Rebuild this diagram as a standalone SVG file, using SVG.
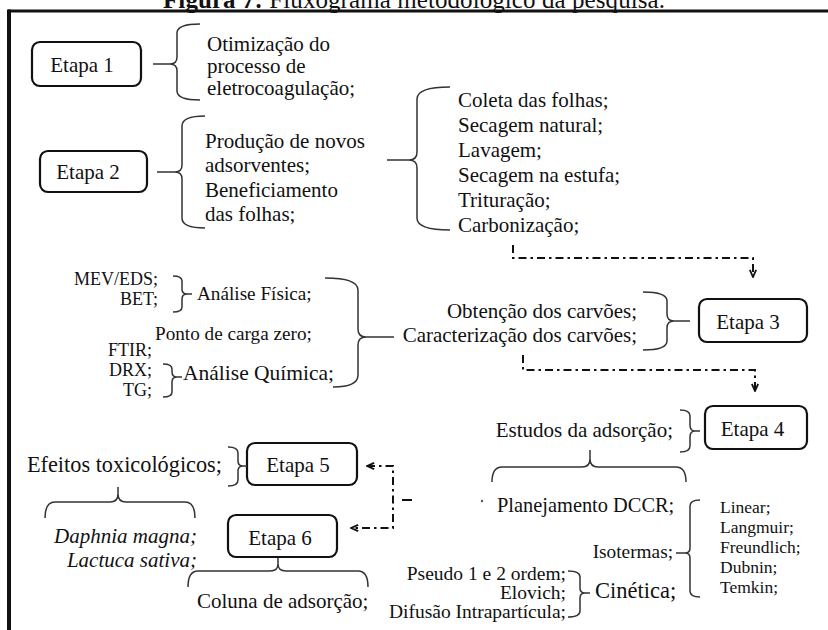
<svg xmlns="http://www.w3.org/2000/svg" width="828" height="630" viewBox="0 0 828 630">
<style>
text{font-family:"Liberation Serif","Times New Roman",serif;fill:#111;font-size:21px}
.sm{font-size:18px}
.xs{font-size:17.5px}
.it{font-style:italic}
.e{text-anchor:end}
.m{text-anchor:middle}
.box{fill:#fff;stroke:#111;stroke-width:2.2}
.br{fill:none;stroke:#333;stroke-width:1.5}
.cn{fill:none;stroke:#111;stroke-width:2;stroke-dasharray:8 4 2.5 4}
</style>
<defs>
<marker id="chev" viewBox="0 0 10 10" refX="9" refY="5" markerWidth="9" markerHeight="9" markerUnits="userSpaceOnUse" orient="auto-start-reverse">
<path d="M1,1.5 L9,5 L1,8.5" fill="none" stroke="#111" stroke-width="2"/>
</marker>
</defs>
<rect width="828" height="630" fill="#fff"/>
<g id="frame">
<line x1="8" y1="11" x2="828" y2="11" stroke="#111" stroke-width="3"/>
<line x1="9" y1="9.5" x2="9" y2="630" stroke="#111" stroke-width="4"/>
<text x="163" y="8" style="font-size:25px" textLength="502"><tspan font-weight="bold">Figura 7:</tspan> Fluxograma metodológico da pesquisa.</text>
</g>
<g id="etapa1">
<rect class="box" x="32" y="42" width="109" height="44" rx="8"/>
<text class="m" x="82" y="72">Etapa 1</text>
</g>
<g id="otimizacao">
<path class="br" d="M200,24 Q177,24 177,33 L177,57 Q177,64 170,64 L153,64 M170,64 Q177,64 177,71 L177,91 Q177,100 200,100"/>
<text x="207" y="51">Otimização do</text>
<text x="207" y="73">processo de</text>
<text x="207" y="95">eletrocoagulação;</text>
</g>
<g id="etapa2">
<rect class="box" x="40" y="151" width="107" height="41" rx="8"/>
<text class="m" x="88" y="179">Etapa 2</text>
</g>
<g id="producao">
<path class="br" d="M205,116 Q182,116 182,126 L182,165 Q182,172 175,172 L157,172 M175,172 Q182,172 182,179 L182,218 Q182,228 205,228"/>
<text x="205" y="148">Produção de novos</text>
<text x="205" y="172">adsorventes;</text>
<text x="205" y="197">Beneficiamento</text>
<text x="205" y="221">das folhas;</text>
</g>
<g id="beneficiamento">
<path class="br" d="M450,87 Q417,87 417,99 L417,152 Q417,160 409,160 L387,160 M409,160 Q417,160 417,168 L417,218 Q417,230 450,230"/>
<text x="458" y="107">Coleta das folhas;</text>
<text x="458" y="132">Secagem natural;</text>
<text x="458" y="157">Lavagem;</text>
<text x="458" y="182">Secagem na estufa;</text>
<text x="458" y="207">Trituração;</text>
<text x="458" y="232">Carbonização;</text>
</g>
<g id="etapa3">
<rect class="box" x="699" y="299" width="108" height="43" rx="8"/>
<text class="m" x="748" y="329">Etapa 3</text>
</g>
<g id="carvoes">
<path class="br" d="M643,292 Q667,292 667,301 L667,314 Q667,321 674,321 L690,321 M674,321 Q667,321 667,328 L667,341 Q667,350 643,350"/>
<text class="e" x="637" y="318">Obtenção dos carvões;</text>
<text class="e" x="637" y="342">Caracterização dos carvões;</text>
</g>
<g id="caracterizacao">
<path class="br" d="M325,278 Q358,278 358,290 L358,329 Q358,337 366,337 L394,337 M366,337 Q358,337 358,345 L358,375 Q358,387 333,387"/>
<text x="197" y="300" style="font-size:19.2px">Análise Física;</text>
<text x="155" y="340" style="font-size:19.2px">Ponto de carga zero;</text>
<text x="183" y="380" style="font-size:21.5px">Análise Química;</text>
</g>
<g id="fisica">
<path class="br" d="M173,276 Q182,276 182,281 L182,289 Q182,294 187,294 L192,294 M187,294 Q182,294 182,299 L182,307 Q182,312 173,312"/>
<text class="sm e" x="158" y="285">MEV/EDS;</text>
<text class="sm e" x="158" y="305">BET;</text>
</g>
<g id="quimica">
<path class="br" d="M163,364 Q172,364 172,369 L172,372 Q172,377 177,377 L182,377 M177,377 Q172,377 172,382 L172,392 Q172,397 163,397"/>
<text class="sm e" x="152" y="356">FTIR;</text>
<text class="sm e" x="152" y="376">DRX;</text>
<text class="sm e" x="152" y="396">TG;</text>
</g>
<g id="etapa4">
<rect class="box" x="705" y="406" width="102" height="43" rx="8"/>
<text class="m" x="752.5" y="436">Etapa 4</text>
</g>
<g id="estudos">
<path class="br" d="M680,410 Q690,410 690,416 L690,425 Q690,431 695,431 L700,431 M695,431 Q690,431 690,437 L690,446 Q690,452 680,452"/>
<text class="e" x="673" y="437">Estudos da adsorção;</text>
<path class="br" d="M492,482 Q492,467 502,467 L582,467 Q590,467 590,459 L590,450 M590,459 Q590,467 598,467 L676,467 Q686,467 686,482"/>
<text x="497" y="512" style="font-size:20.4px">Planejamento DCCR;</text>
</g>
<g id="isotermas">
<path class="br" d="M700,500 Q690,500 690,506 L690,548 Q690,553 685,553 L676,553 M685,553 Q690,553 690,558 L690,591 Q690,597 700,597"/>
<text class="e" x="673" y="558" style="font-size:19.3px">Isotermas;</text>
<text class="xs" x="720" y="513">Linear;</text>
<text class="xs" x="720" y="533">Langmuir;</text>
<text class="xs" x="720" y="553">Freundlich;</text>
<text class="xs" x="720" y="573">Dubnin;</text>
<text class="xs" x="720" y="593">Temkin;</text>
</g>
<g id="cinetica">
<path class="br" d="M568,571 Q580,571 580,577 L580,588 Q580,593 585,593 L590,593 M585,593 Q580,593 580,598 L580,611 Q580,617 568,617"/>
<text x="595" y="598" style="font-size:22.5px">Cinética;</text>
<text class="e" x="566" y="580" style="font-size:19.5px">Pseudo 1 e 2 ordem;</text>
<text class="e" x="566" y="599" style="font-size:19.5px">Elovich;</text>
<text class="e" x="566" y="618" style="font-size:19.5px">Difusão Intrapartícula;</text>
</g>
<g id="etapa5">
<rect class="box" x="247" y="443" width="110" height="42" rx="8"/>
<text class="m" x="298" y="472">Etapa 5</text>
</g>
<g id="efeitos">
<path class="br" d="M228,447 Q238,447 238,453 L238,461 Q238,466 243,466 L247,466 M243,466 Q238,466 238,471 L238,480 Q238,486 228,486"/>
<text class="e" x="222" y="472" style="font-size:22.3px">Efeitos toxicológicos;</text>
<path class="br" d="M45,518 Q45,502 55,502 L110,502 Q118,502 118,494 L118,487 M118,494 Q118,502 126,502 L185,502 Q195,502 195,518"/>
<text class="e it" x="197" y="543">Daphnia magna;</text>
<text class="e it" x="197" y="567">Lactuca sativa;</text>
</g>
<g id="etapa6">
<rect class="box" x="228" y="515" width="109" height="42" rx="8"/>
<text class="m" x="280" y="545">Etapa 6</text>
</g>
<g id="coluna">
<path class="br" d="M188,587 Q188,571 198,571 L270,571 Q278,571 278,564 L278,558 M278,564 Q278,571 286,571 L358,571 Q368,571 368,587"/>
<text x="197" y="608">Coluna de adsorção;</text>
</g>
<g id="connectors">
<path class="cn" d="M513,245 V258 H753 V277" marker-end="url(#chev)"/>
<path class="cn" d="M523,355 V370 H755 V391" marker-end="url(#chev)"/>
<path class="cn" d="M367,466 H393 V528 H351" marker-start="url(#chev)" marker-end="url(#chev)"/>
<path d="M402,500 H412" stroke="#111" stroke-width="2"/>
<circle cx="482" cy="501" r="1.2" fill="#555"/>
</g>
</svg>
